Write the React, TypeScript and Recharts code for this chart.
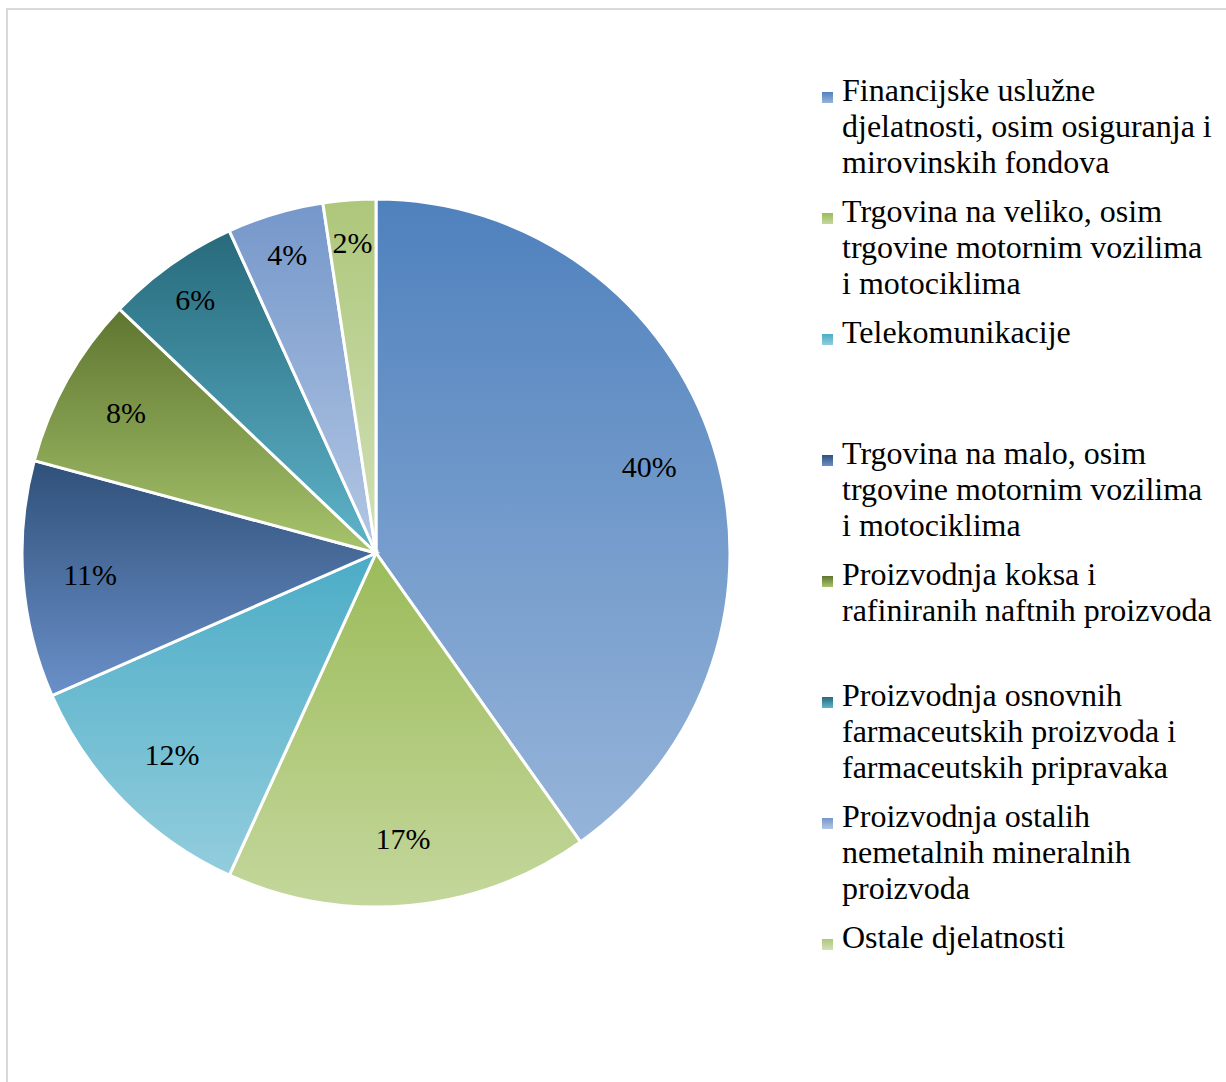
import { PieChart, Pie, Cell, Legend } from 'recharts';

const categories = [
  'Financijske uslužne\ndjelatnosti, osim osiguranja i\nmirovinskih fondova',
  'Trgovina na veliko, osim\ntrgovine motornim vozilima\ni motociklima',
  'Telekomunikacije',
  'Trgovina na malo, osim\ntrgovine motornim vozilima\ni motociklima',
  'Proizvodnja koksa i\nrafiniranih naftnih proizvoda',
  'Proizvodnja osnovnih\nfarmaceutskih proizvoda i\nfarmaceutskih pripravaka',
  'Proizvodnja ostalih\nnemetalnih mineralnih\nproizvoda',
  'Ostale djelatnosti',
];

const shares = [40.2, 16.6, 11.6, 10.8, 7.9, 6.1, 4.4, 2.4];

// gradient top -> bottom for each slice
const topColors = ['#4f81bd', '#9bbb59', '#4bacc6', '#2f5079', '#5e7530', '#276a7c', '#7597ca', '#adc77a'];
const bottomColors = ['#96b4d9', '#c4d79c', '#93cddd', '#6a90c9', '#a7c46c', '#5fb4ca', '#b3c7e4', '#d2e0b8'];

const data = categories.map((name, i) => ({ name, value: shares[i] }));

const FONT = '"Liberation Serif", "Times New Roman", serif';
const RADIAN = Math.PI / 180;

const renderLabel = (props: any) => {
  const { cx, cy, midAngle, outerRadius, percent } = props;
  // thin slices get their label pushed a bit further out
  const r = outerRadius * (percent < 0.07 ? 0.88 : 0.81);
  const x = cx + r * Math.cos(-midAngle * RADIAN);
  const y = cy + r * Math.sin(-midAngle * RADIAN);
  return (
    <text
      x={x}
      y={y}
      fill="#000"
      textAnchor="middle"
      dominantBaseline="central"
      style={{ fontFamily: FONT, fontSize: 30 }}
    >
      {`${Math.round(percent * 100)}%`}
    </text>
  );
};

const renderLegend = () => (
  <div style={{ fontFamily: FONT, fontSize: 32, lineHeight: '36px', color: '#000' }}>
    {categories.map((name, i) => (
      <div key={i} style={{ position: 'relative', height: 121, paddingLeft: 20 }}>
        <svg width={11} height={11} style={{ position: 'absolute', left: 0, top: 20 }}>
          <defs>
            <linearGradient id={`lg-${i}`} x1="0" y1="0" x2="0" y2="1">
              <stop offset="0%" stopColor={topColors[i]} />
              <stop offset="100%" stopColor={bottomColors[i]} />
            </linearGradient>
          </defs>
          <rect width={11} height={11} fill={`url(#lg-${i})`} />
        </svg>
        <div style={{ whiteSpace: 'pre' }}>{name}</div>
      </div>
    ))}
  </div>
);

export default function App() {
  return (
    <div
      style={{
        position: 'absolute',
        left: 6,
        top: 8,
        width: 1220,
        height: 1074,
        borderTop: '2px solid #d9d9d9',
        borderLeft: '2px solid #d9d9d9',
        background: '#fff',
      }}
    >
      <PieChart width={1218} height={1070}>
        <defs>
          {topColors.map((c, i) => (
            <linearGradient key={i} id={`sg-${i}`} x1="0" y1="0" x2="0" y2="1">
              <stop offset="0%" stopColor={c} />
              <stop offset="100%" stopColor={bottomColors[i]} />
            </linearGradient>
          ))}
        </defs>
        <Pie
          data={data}
          dataKey="value"
          nameKey="name"
          cx={363}
          cy={538}
          outerRadius={354}
          startAngle={90}
          endAngle={-270}
          stroke="#fff"
          strokeWidth={3}
          label={renderLabel}
          labelLine={false}
          isAnimationActive={false}
        >
          {data.map((_, i) => (
            <Cell key={i} fill={`url(#sg-${i})`} />
          ))}
        </Pie>
        <Legend
          content={renderLegend}
          wrapperStyle={{ position: 'absolute', left: 814, top: 62, width: 400, height: 'auto' }}
        />
      </PieChart>
    </div>
  );
}
